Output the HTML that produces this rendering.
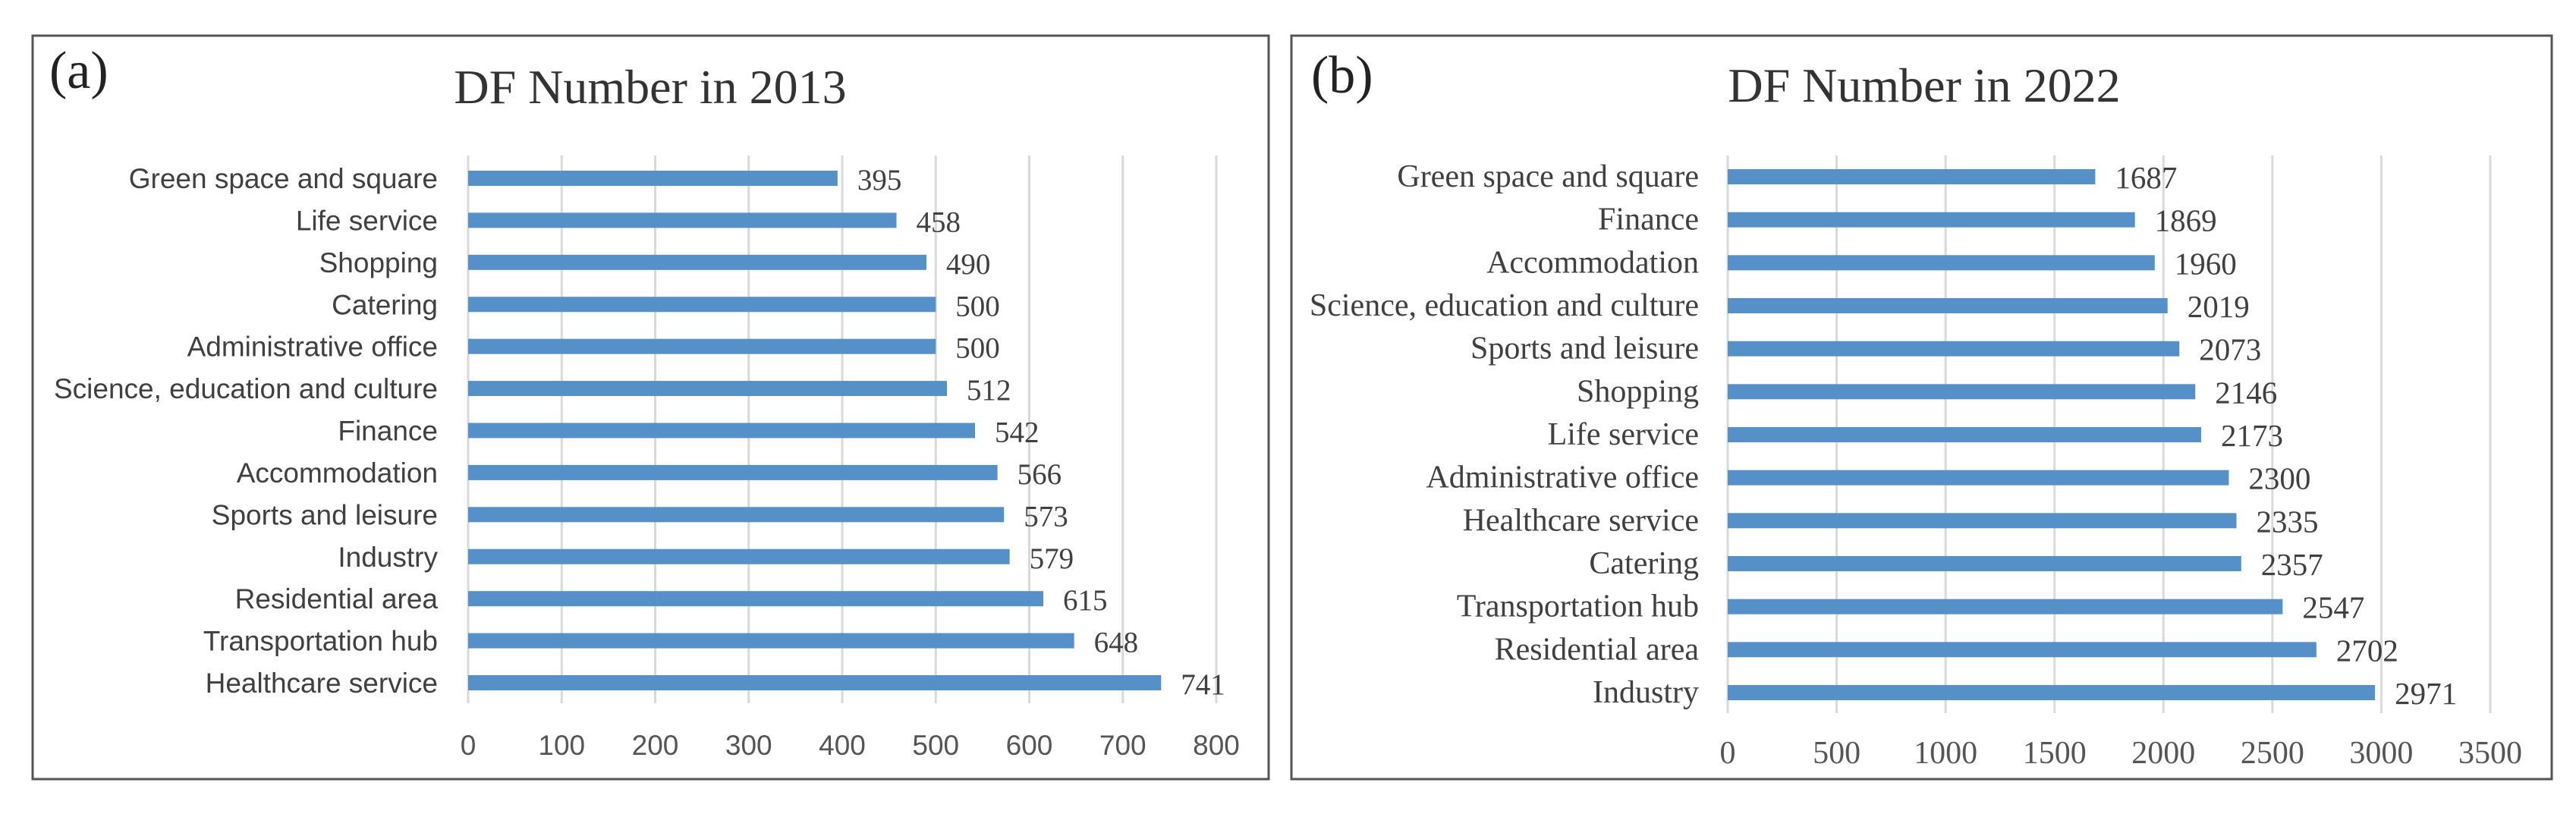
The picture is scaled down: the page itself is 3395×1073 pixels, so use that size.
<!DOCTYPE html>
<html><head><meta charset="utf-8"><style>
html,body{margin:0;padding:0;background:#fff;}
svg{display:block;}
</style></head><body>
<svg id="chart" width="3395" height="1073" viewBox="0 0 3395 1073" xmlns="http://www.w3.org/2000/svg">
<rect x="0" y="0" width="3395" height="1073" fill="#fff"/>
<rect x="43" y="47" width="1629" height="980" fill="#fff" stroke="#555" stroke-width="3"/>
<rect x="1702" y="47" width="1661" height="980" fill="#fff" stroke="#555" stroke-width="3"/>
<text x="65" y="116" font-family="Liberation Serif, serif" font-size="70" fill="#222">(a)</text>
<text x="1728" y="122" font-family="Liberation Serif, serif" font-size="70" fill="#222">(b)</text>
<text x="857" y="136" text-anchor="middle" font-family="Liberation Serif, serif" font-size="64" fill="#333">DF Number in 2013</text>
<text x="2536" y="134" text-anchor="middle" font-family="Liberation Serif, serif" font-size="64" fill="#333">DF Number in 2022</text>
<g id="ga"></g>
<g id="gb"></g>
</svg>
<script>
const catsA = ["Green space and square","Life service","Shopping","Catering","Administrative office","Science, education and culture","Finance","Accommodation","Sports and leisure","Industry","Residential area","Transportation hub","Healthcare service"];
const valsA = [395,458,490,500,500,512,542,566,573,579,615,648,741];
const ticksA = [0,100,200,300,400,500,600,700,800];
const catsB = ["Green space and square","Finance","Accommodation","Science, education and culture","Sports and leisure","Shopping","Life service","Administrative office","Healthcare service","Catering","Transportation hub","Residential area","Industry"];
const valsB = [1687,1869,1960,2019,2073,2146,2173,2300,2335,2357,2547,2702,2971];
const ticksB = [0,500,1000,1500,2000,2500,3000,3500];

const NS = "http://www.w3.org/2000/svg";
function mk(tag, attrs, parent){
  const e = document.createElementNS(NS, tag);
  for (const k in attrs) e.setAttribute(k, attrs[k]);
  parent.appendChild(e);
  return e;
}
function draw(g, cats, vals, ticks, cfg, prefix){
  const xs = v => cfg.x0 + (v - ticks[0]) / (ticks[ticks.length-1] - ticks[0]) * (cfg.x1 - cfg.x0);
  const ys = i => cfg.y0 + i * (cfg.yN - cfg.y0) / (cats.length - 1);
  ticks.forEach(t => {
    const l = mk("line", {x1: xs(t), x2: xs(t), y1: cfg.gTop, y2: cfg.gBot, stroke: "#d9d9d9", "stroke-width": 3}, g);
    
    
    const tx = mk("text", {x: xs(t), y: cfg.tickY, "text-anchor": "middle", "font-family": cfg.tickFont, "font-size": cfg.tickSize, fill: "#555"}, g);
    tx.textContent = t;
    
    
  });
  cats.forEach((c, i) => {
    const y = ys(i);
    const r = mk("rect", {x: xs(0), y: y - 10, width: xs(vals[i]) - xs(0), height: 20, fill: "#5590c8"}, g);
    
    
    const lab = mk("text", {x: cfg.labRight, y: y + 13, "text-anchor": "end", "font-family": cfg.catFont, "font-size": cfg.catSize, fill: "#404040"}, g);
    lab.textContent = c;
    
    
    const v = mk("text", {x: xs(vals[i]) + 26, y: y + 15, "font-family": "Liberation Serif, serif", "font-size": cfg.valSize, fill: "#404040"}, g);
    v.textContent = vals[i];
    
    
  });
}
draw(document.getElementById("ga"), catsA, valsA, ticksA,
  {x0: 617, x1: 1603, y0: 235, yN: 900, gTop: 205, gBot: 927, tickY: 995, labRight: 577,
   tickFont: "Liberation Sans, sans-serif", tickSize: 37, catFont: "Liberation Sans, sans-serif", catSize: 37, valSize: 39}, "a");
draw(document.getElementById("gb"), catsB, valsB, ticksB,
  {x0: 2277, x1: 3282, y0: 233, yN: 913, gTop: 205, gBot: 940, tickY: 1006, labRight: 2239,
   tickFont: "Liberation Serif, serif", tickSize: 42, catFont: "Liberation Serif, serif", catSize: 42, valSize: 41}, "b");
</script>
</body></html>
